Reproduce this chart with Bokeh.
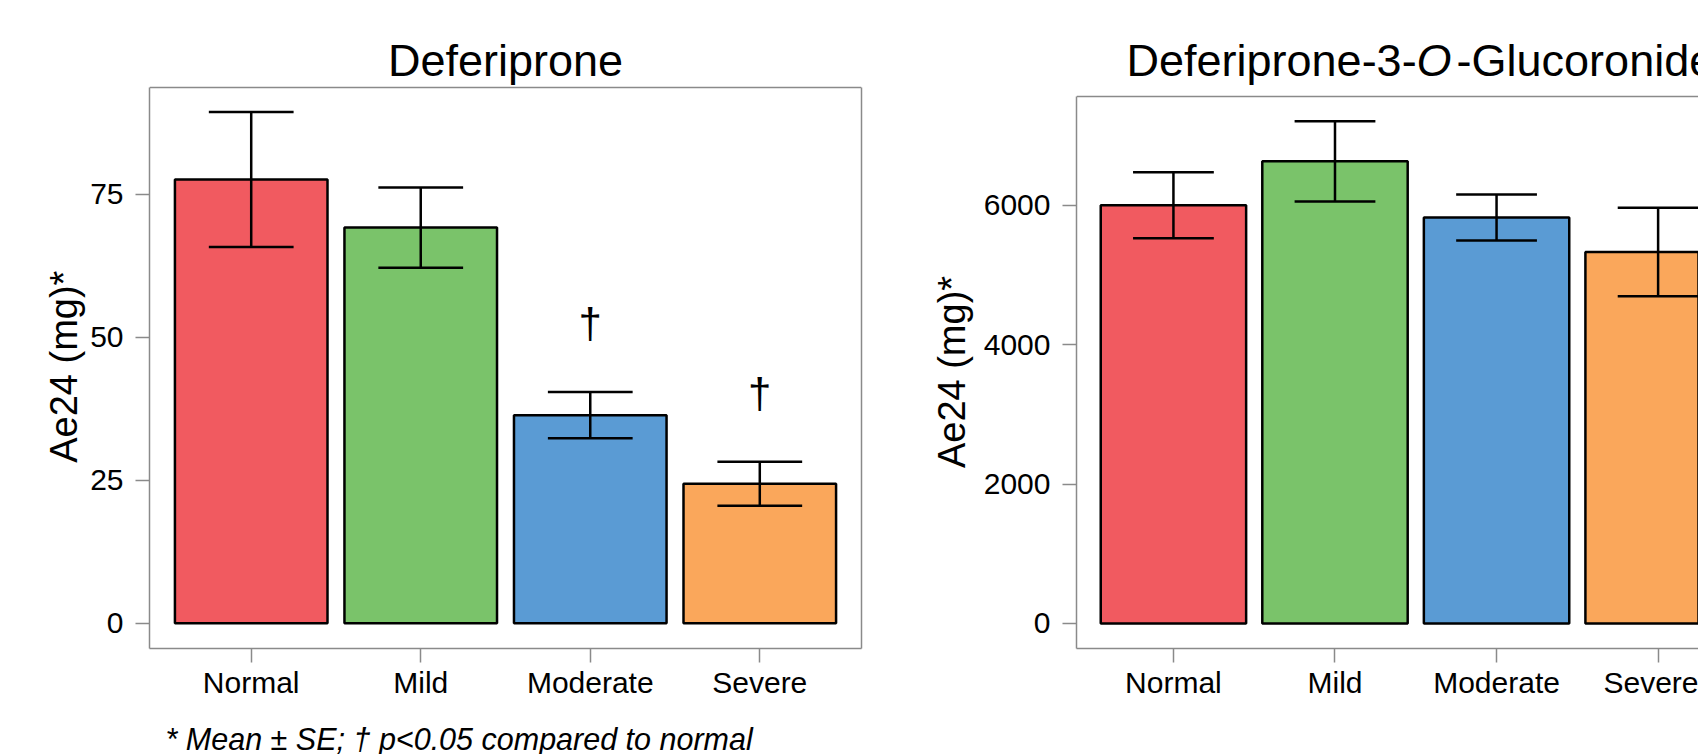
from bokeh.plotting import figure
from bokeh.layouts import row
from bokeh.models import FixedTicker, Label, LinearAxis, Range1d
from bokeh.core.properties import value
from bokeh.embed import file_html
from bokeh.resources import INLINE

# ---------------- data ----------------
categories = ["Normal", "Mild", "Moderate", "Severe"]
colors = ["#F15A60", "#7AC36A", "#5A9BD4", "#FAA75B"]

dfp_mean = [77.6, 69.2, 36.4, 24.4]
dfp_se = [11.8, 7.0, 4.05, 3.85]
dfp_sig = ["", "", "\u2020", "\u2020"]
dfp_ticks = [0, 25, 50, 75]
dfp_ylim = [-4.4, 93.7]

glu_mean = [6000, 6630, 5825, 5330]
glu_se = [473, 576, 330, 635]
glu_ticks = [0, 2000, 4000, 6000]
glu_ylim = [-360, 7560]

ylabel = "Ae24 (mg)*"
title1 = "Deferiprone"
title2_parts = ["Deferiprone-3-", "O", "-Glucoronide"]
footnote = "* Mean \u00b1 SE; \u2020 p<0.05 compared to normal"

FONT = "Liberation Sans"
GRAY = "#8a8a8a"
H = 754
FRAME_BOT = 648
TITLE_SIZE = 45
TITLE_Y = 60
LABEL_SIZE = 38

# Arial / Liberation Sans advance widths (per 1000 em)
AW = {"D": 722, "e": 556, "f": 278, "r": 333, "i": 222, "p": 556, "o": 556,
      "n": 556, "-": 333, "3": 556, "O": 778, "G": 778, "l": 222, "u": 556,
      "c": 500, "d": 556, "\u00a0": 278}


def text_width(s, size):
    return sum(AW.get(ch, 556) for ch in s) * size / 1000.0


def make_fig(width, mean, se, ticks, ylim, panel_top, x_end, border_left, border_right):
    # the frame reaches the canvas top so that titles drawn above the panel are not clipped
    per_px = (ylim[1] - ylim[0]) / (FRAME_BOT - panel_top)
    y_canvas_top = ylim[1] + panel_top * per_px
    p = figure(width=width, height=H, x_range=Range1d(-0.6, x_end),
               y_range=Range1d(ylim[0], y_canvas_top), output_backend="svg",
               toolbar_location=None, title=None,
               min_border_left=border_left, min_border_right=border_right,
               min_border_top=0, min_border_bottom=H - FRAME_BOT)
    p.outline_line_color = None
    p.xgrid.grid_line_color = None
    p.ygrid.grid_line_color = None
    p.background_fill_color = "white"
    p.border_fill_color = "white"
    idx = list(range(len(categories)))
    p.vbar(x=idx, top=mean, bottom=0, width=0.9, fill_color=colors,
           line_color="black", line_width=2.5)
    lows = [m - s for m, s in zip(mean, se)]
    highs = [m + s for m, s in zip(mean, se)]
    p.segment(x0=idx, x1=idx, y0=lows, y1=highs, line_color="black", line_width=2.5)
    p.segment(x0=[i - 0.25 for i in idx], x1=[i + 0.25 for i in idx], y0=highs, y1=highs,
              line_color="black", line_width=2.5)
    p.segment(x0=[i - 0.25 for i in idx], x1=[i + 0.25 for i in idx], y0=lows, y1=lows,
              line_color="black", line_width=2.5)
    # top border of the panel
    p.segment(x0=[-0.6], x1=[x_end], y0=[ylim[1]], y1=[ylim[1]],
              line_color=GRAY, line_width=1.5)

    p.xaxis.ticker = FixedTicker(ticks=idx)
    p.xaxis.major_label_overrides = {i: c for i, c in enumerate(categories)}
    p.yaxis.ticker = FixedTicker(ticks=ticks)
    p.yaxis.bounds = (ylim[0], ylim[1])
    for ax in (p.xaxis, p.yaxis):
        ax.major_tick_out = 14
        ax.major_tick_in = 0
        ax.minor_tick_line_color = None
        ax.major_tick_line_color = GRAY
        ax.major_tick_line_width = 1.5
        ax.major_label_text_font = FONT
        ax.major_label_text_font_size = "30px"
        ax.major_label_text_color = "black"
        ax.axis_line_color = GRAY
        ax.axis_line_width = 1.5
    p.xaxis.major_label_standoff = 3
    p.yaxis.major_label_standoff = 12
    # the axis label is centred on the whole (extended) frame; pad it so that the
    # visible words sit centred on the drawn panel
    n_pad = round(panel_top / (0.278 * LABEL_SIZE))
    p.yaxis.axis_label = ylabel + "\u00a0" * n_pad
    p.yaxis.axis_label_text_font = FONT
    p.yaxis.axis_label_text_font_size = f"{LABEL_SIZE}px"
    p.yaxis.axis_label_text_font_style = "normal"
    p.yaxis.axis_label_text_color = "black"
    return p, idx, highs


# ---------------- left panel ----------------
W1 = 900
p1, idx, highs1 = make_fig(W1, dfp_mean, dfp_se, dfp_ticks, dfp_ylim, 87, 3.6, 149, W1 - 861)
p1.yaxis.axis_label_standoff = 2
right_axis = LinearAxis(ticker=FixedTicker(ticks=[]), bounds=(dfp_ylim[0], dfp_ylim[1]),
                        axis_line_color=GRAY, axis_line_width=1.5,
                        major_label_text_font_size="0px", major_tick_out=0,
                        major_tick_in=0, minor_tick_line_color=None)
p1.add_layout(right_axis, "right")

p1.text(x=idx, y=[h + 12 for h in highs1], text=dfp_sig,
        text_font=value(FONT), text_font_size="42px", text_align="center",
        text_baseline="middle", text_color="black")

p1.add_layout(Label(x=505, y=TITLE_Y, x_units="canvas", y_units="canvas", text=title1,
                    text_font=FONT, text_font_size=f"{TITLE_SIZE}px", text_align="center",
                    text_baseline="alphabetic", text_color="black"))
p1.add_layout(Label(x=165, y=738, x_units="canvas", y_units="canvas", text=footnote,
                    text_font=FONT, text_font_size="30.5px", text_font_style="italic",
                    text_align="left", text_baseline="alphabetic",
                    text_color="black"), "below")

# ---------------- right panel ----------------
W2 = 1698 - W1
R_left = 1076
x2_end = 3.25
p2, idx2, highs2 = make_fig(W2, glu_mean, glu_se, glu_ticks, glu_ylim, 96, x2_end,
                            R_left - W1, 0)
p2.yaxis.axis_label_standoff = 8

px = 1126 - W1
for k, part in enumerate(title2_parts):
    p2.add_layout(Label(x=px, y=TITLE_Y, x_units="canvas", y_units="canvas", text=part,
                        text_font=FONT, text_font_size=f"{TITLE_SIZE}px",
                        text_font_style="italic" if k == 1 else "normal",
                        text_align="left", text_baseline="alphabetic",
                        text_color="black"))
    px += text_width(part, TITLE_SIZE) + (5 if k == 1 else 0)

layout = row(p1, p2)
open("out.html", "w").write(file_html(layout, INLINE))
